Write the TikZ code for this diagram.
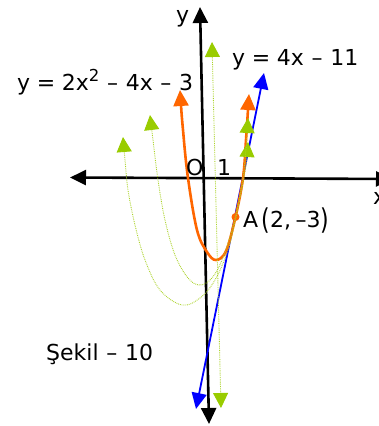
\documentclass[tikz,border=0pt]{standalone}
\usepackage{fontspec}
\usepackage{graphicx}
\setmainfont{DejaVu Sans}
\usetikzlibrary{arrows.meta}
\definecolor{ored}{RGB}{255,102,0}
\definecolor{gtip}{RGB}{153,204,0}
\definecolor{gdot}{RGB}{170,210,40}
\newcommand\eqgap{\hspace{0.3em}}
\newcommand\mgap{\hspace{0.35em}}
\newcommand\bigpar[1]{\raisebox{-0.12em}{\scalebox{1}[1.3]{#1}}}
\tikzset{
  tri/.tip={Triangle[width=15pt,length=16pt]},
  gtri/.tip={Triangle[width=15pt,length=15pt,fill=gtip,color=gtip]},
  axisline/.style={line width=2.6pt,black,{tri}-{tri}},
  parab/.style={line width=2.6pt,ored,{tri}-{tri}},
  tang/.style={line width=1.8pt,blue,{tri}-{tri}},
  gcurve/.style={line width=0.9pt,gdot,dash pattern=on 0.8pt off 1pt,{gtri}-{gtri}},
  lbl/.style={inner sep=0pt,font=\fontsize{22}{24}\selectfont}
}
\begin{document}
\begin{tikzpicture}[x=1pt,y=-1pt]
\useasboundingbox (0,0) rectangle (379,426);
% axes
\coordinate (xl) at (70,177.5);
\coordinate (xr) at (392,179);
\coordinate (yt) at (200,7);
\coordinate (yb) at (209,424);
\draw[axisline] (xl) -- (xr);
\draw[axisline] (yt) -- (yb);
% tangent line
\coordinate (bt) at (264,73);
\coordinate (bb) at (196,409);
\draw[tang] (bb) -- (bt);
% parabola
\coordinate (pl) at (180,90);
\coordinate (pr) at (249,94);
\coordinate (A) at (235.5,217);
\draw[parab] plot[smooth,tension=0.6] coordinates {(pl) (183,130) (188,178) (197,230) (207,252) (216,260) (226,251) (A) (243,178) (246,140) (pr)};
\fill[ored] (A) circle (4pt);
% green dotted curves
\coordinate (g1a) at (123,137);
\coordinate (g1b) at (248,142);
\coordinate (g2a) at (150,115);
\coordinate (g2b) at (248,118);
\coordinate (g3a) at (212,42);
\coordinate (g3b) at (221,408);
\draw[gcurve] plot[smooth,tension=0.6] coordinates {(g1a) (125,160) (128,190) (135,225) (145,260) (160,290) (182,305) (200,298) (215,280) (228,250) (236,217) (242,188) (246,165) (g1b)};
\draw[gcurve] plot[smooth,tension=0.6] coordinates {(g2a) (153,140) (158,180) (165,220) (175,255) (188,278) (200,285) (212,278) (222,260) (232,230) (240,195) (245,160) (g2b)};
\draw[gcurve] (g3a) -- (g3b);
% labels
\node[lbl,anchor=base west] (eq1) at (17,90) {y\eqgap=\eqgap2x\raisebox{0.4em}{\fontsize{16.5}{17}\selectfont 2}\mgap–\mgap4x\mgap–\mgap3};
\node[lbl,anchor=base west] (eq2) at (232,65) {y\eqgap=\eqgap4x\mgap–\mgap11};
\node[lbl,anchor=base west] (lA) at (243,227) {A\hspace{0.15em}\bigpar{(}2,\hspace{0.2em}–3\bigpar{)}};
\node[lbl,anchor=base west] (sek) at (46,360) {Şekil\mgap–\mgap10};
\node[lbl,anchor=base west] (lO) at (186,175) {O};
\node[lbl,anchor=base west] (l1) at (217,175) {1};
\node[lbl,anchor=base west] (ly) at (176,22) {y};
\node[lbl,anchor=base west] (lx) at (373,204) {x};
\end{tikzpicture}
\end{document}
